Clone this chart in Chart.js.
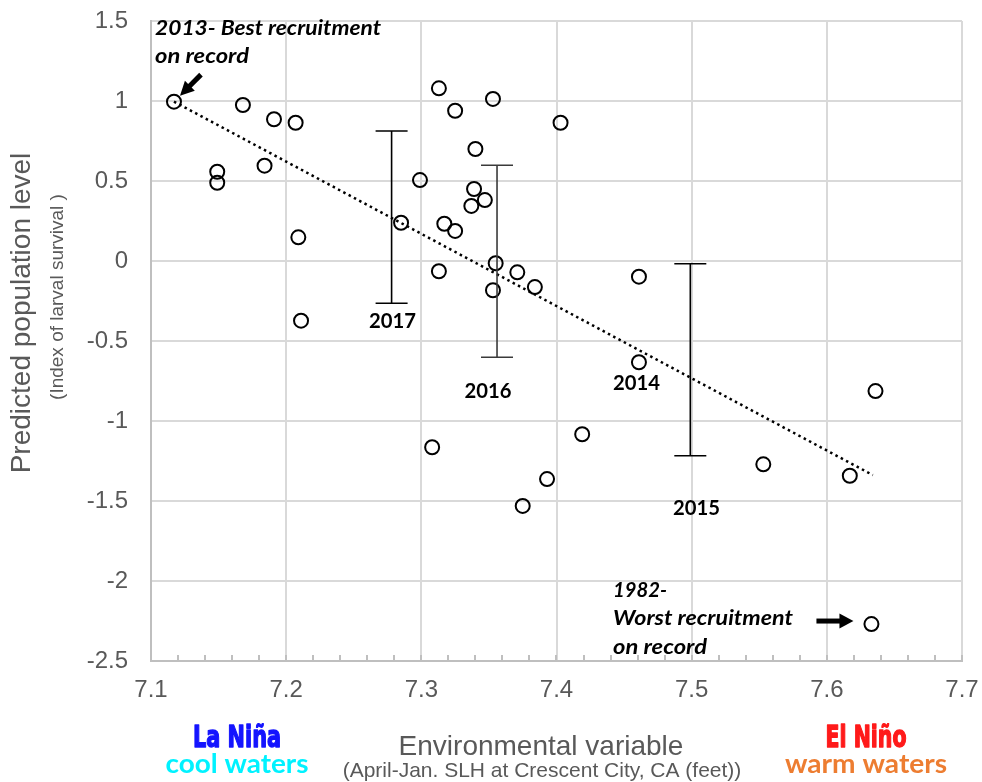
<!DOCTYPE html>
<html>
<head>
<meta charset="utf-8">
<script src="https://cdn.jsdelivr.net/npm/chart.js@4.4.0/dist/chart.umd.min.js"></script>
<style>
  html, body { margin: 0; padding: 0; background: #fff; }
  #wrap { width: 982px; height: 782px; }
</style>
</head>
<body>
<div id="wrap"><canvas id="chart" width="982" height="782"></canvas></div>
<script>
// sea level height (x) vs predicted population level (y), one point per year
const slh = [7.117, 7.168, 7.191, 7.207, 7.149, 7.149, 7.184, 7.209, 7.211, 7.285,
  7.299, 7.313, 7.325, 7.317, 7.325, 7.313, 7.340, 7.339, 7.347, 7.337,
  7.353, 7.355, 7.353, 7.371, 7.384, 7.403, 7.308, 7.375, 7.393, 7.419,
  7.461, 7.461, 7.553, 7.617, 7.636, 7.633];
const survival = [0.996, 0.975, 0.886, 0.864, 0.558, 0.489, 0.596, 0.148, -0.373, 0.239,
  0.506, 1.079, 0.939, 0.233, 0.188, -0.064, 0.700, 0.450, 0.381, 0.344,
  1.013, -0.014, -0.183, -0.071, -0.163, 0.864, -1.164, -1.531, -1.363, -1.083,
  -0.098, -0.633, -1.271, -1.342, -0.813, -2.269];

// dotted linear trend line end points
const trendX = [7.117, 7.634];
const trendY = [0.996, -1.338];

// prediction ranges for 2017, 2016 and 2015
const rangeYears = ['2017', '2016', '2015'];
const rangeX = [7.278, 7.356, 7.499];
const rangeHigh = [0.8125, 0.598, -0.017];
const rangeLow = [-0.264, -0.602, -1.217];

// axis ticks
const xTicks = [7.1, 7.2, 7.3, 7.4, 7.5, 7.6, 7.7];
const yTicks = [-2.5, -2, -1.5, -1, -0.5, 0, 0.5, 1, 1.5];

const GREY = '#595959';

function drawText(ctx, t) {
  ctx.save();
  ctx.font = t.font;
  ctx.fillStyle = t.color || '#000';
  ctx.textBaseline = 'alphabetic';
  ctx.textAlign = t.align || 'left';
  const w = ctx.measureText(t.text).width;
  const sx = t.width ? t.width / w : 1;
  ctx.translate(t.x, t.y);
  if (t.rot) ctx.rotate(t.rot);
  ctx.scale(sx, 1);
  ctx.fillText(t.text, 0, 0);
  if (t.heavy) {
    // thicken the glyphs a little, like a poster font
    ctx.strokeStyle = t.color;
    ctx.lineWidth = t.heavy;
    ctx.lineJoin = 'round';
    ctx.strokeText(t.text, 0, 0);
  }
  ctx.restore();
}

function drawArrow(ctx, x1, y1, x2, y2, shaft, headLen, headW) {
  const a = Math.atan2(y2 - y1, x2 - x1);
  const len = Math.hypot(x2 - x1, y2 - y1);
  ctx.save();
  ctx.translate(x1, y1);
  ctx.rotate(a);
  ctx.fillStyle = '#000';
  ctx.fillRect(0, -shaft / 2, len - headLen + 1, shaft);
  ctx.beginPath();
  ctx.moveTo(len, 0);
  ctx.lineTo(len - headLen, -headW / 2);
  ctx.lineTo(len - headLen, headW / 2);
  ctx.closePath();
  ctx.fill();
  ctx.restore();
}

const extras = {
  id: 'extras',
  afterDatasetsDraw(chart) {
    const ctx = chart.ctx;
    const xs = chart.scales.x, ys = chart.scales.y;
    const area = chart.chartArea;

    // minor ticks on the x axis, pointing into the plot
    ctx.save();
    ctx.strokeStyle = '#bfbfbf';
    ctx.lineWidth = 2;
    for (let k = 0; k <= 30; k++) {
      const px = Math.round(xs.getPixelForValue(7.1 + k * 0.02));
      ctx.beginPath();
      ctx.moveTo(px, area.bottom);
      ctx.lineTo(px, area.bottom - 6);
      ctx.stroke();
    }
    ctx.restore();

    // range bars
    ctx.save();
    ctx.lineWidth = 1.6;
    rangeX.forEach((v, i) => {
      const px = xs.getPixelForValue(v);
      const top = ys.getPixelForValue(rangeHigh[i]);
      const bot = ys.getPixelForValue(rangeLow[i]);
      ctx.strokeStyle = i === 1 ? '#3a3a3a' : '#000';
      ctx.beginPath();
      ctx.moveTo(px, top); ctx.lineTo(px, bot);
      ctx.moveTo(px - 16, top); ctx.lineTo(px + 16, top);
      ctx.moveTo(px - 16, bot); ctx.lineTo(px + 16, bot);
      ctx.stroke();
    });
    ctx.restore();

    // arrows to best (2013) and worst (1982) years
    const bx = xs.getPixelForValue(slh[0]), by = ys.getPixelForValue(survival[0]);
    drawArrow(ctx, bx + 27, by - 27, bx + 6, by - 6, 5, 14, 14);
    const wx = xs.getPixelForValue(slh[35]), wy = ys.getPixelForValue(survival[35]);
    drawArrow(ctx, wx - 55, wy - 3, wx - 18, wy - 3, 5, 14, 15);

    const bi = 'italic bold 20px Lato';
    const yb = 'bold 20px Lato';
    const notes = [
      { text: '2013- Best recruitment', x: 155, y: 35, font: bi, width: 226 },
      { text: 'on record', x: 155, y: 63, font: bi, width: 94 },
      { text: '1982-', x: 613, y: 597, font: bi, width: 54 },
      { text: 'Worst recruitment', x: 613, y: 625, font: bi, width: 180 },
      { text: 'on record', x: 613, y: 654, font: bi, width: 94 },
      { text: rangeYears[0], x: 392.5, y: 328, font: yb, align: 'center', width: 47 },
      { text: rangeYears[1], x: 488, y: 398, font: yb, align: 'center', width: 47 },
      { text: '2014', x: 636.5, y: 390, font: yb, align: 'center', width: 47 },
      { text: rangeYears[2], x: 696.5, y: 515, font: yb, align: 'center', width: 47 },
      // axis titles
      { text: 'Environmental variable', x: 541, y: 755, font: '28px "Liberation Sans"', color: GREY, align: 'center' },
      { text: '(April-Jan. SLH at Crescent City, CA (feet))', x: 542, y: 777, font: '21px "Liberation Sans"', color: GREY, align: 'center' },
      { text: 'Predicted population level', x: 30, y: 313, font: '28px "Liberation Sans"', color: GREY, align: 'center', rot: -Math.PI / 2 },
      { text: '(Index of larval survival )', x: 63, y: 297, font: '19px "Liberation Sans"', color: GREY, align: 'center', rot: -Math.PI / 2 },
      // ENSO labels
      { text: 'La Niña', x: 237, y: 747, font: 'bold 31px "DejaVu Sans"', color: '#1414ff', align: 'center', width: 88, heavy: 1.5 },
      { text: 'cool waters', x: 237, y: 773, font: 'bold 27px Lato', color: '#00f2ff', align: 'center', width: 143 },
      { text: 'El Niño', x: 866, y: 747, font: 'bold 31px "DejaVu Sans"', color: '#ff1a1a', align: 'center', width: 81, heavy: 1.5 },
      { text: 'warm waters', x: 866, y: 773, font: 'bold 27px Lato', color: '#ed7d31', align: 'center', width: 162 }
    ];
    notes.forEach(t => drawText(ctx, t));
  }
};

new Chart(document.getElementById('chart'), {
  type: 'scatter',
  data: {
    datasets: [
      {
        label: 'Years',
        data: slh.map((x, i) => ({ x, y: survival[i] })),
        pointRadius: 7,
        pointHoverRadius: 7,
        borderWidth: 2,
        borderColor: '#000',
        backgroundColor: 'rgba(255,255,255,0)'
      },
      {
        type: 'line',
        label: 'Trend',
        data: trendX.map((x, i) => ({ x, y: trendY[i] })),
        borderColor: '#000',
        borderWidth: 2.5,
        borderDash: [2.5, 3.5],
        pointRadius: 0,
        fill: false
      }
    ]
  },
  options: {
    responsive: false,
    animation: false,
    devicePixelRatio: 1,
    layout: { padding: { left: 0, right: 20, top: 21, bottom: 0 } },
    plugins: { legend: { display: false }, tooltip: { enabled: false } },
    scales: {
      x: {
        type: 'linear',
        min: 7.1,
        max: 7.7,
        afterBuildTicks: s => { s.ticks = xTicks.map(v => ({ value: v })); },
        afterFit: s => { s.height = 121; s.paddingLeft = 0; s.paddingRight = 0; },
        grid: { color: '#d9d9d9', lineWidth: 2, drawTicks: false },
        border: { color: '#bfbfbf', width: 2 },
        ticks: {
          padding: 15,
          color: GREY,
          font: { family: '"Liberation Sans", Arial', size: 24 },
          callback: v => String(v)
        }
      },
      y: {
        min: -2.5,
        max: 1.5,
        afterBuildTicks: s => { s.ticks = yTicks.map(v => ({ value: v })); },
        afterFit: s => { s.width = 151; s.paddingTop = 0; s.paddingBottom = 0; },
        grid: { color: '#d9d9d9', lineWidth: 2, drawTicks: false },
        border: { color: '#bfbfbf', width: 2 },
        ticks: {
          padding: 23,
          color: GREY,
          font: { family: '"Liberation Sans", Arial', size: 24 },
          callback: v => String(v)
        }
      }
    }
  },
  plugins: [extras]
});
</script>
</body>
</html>
